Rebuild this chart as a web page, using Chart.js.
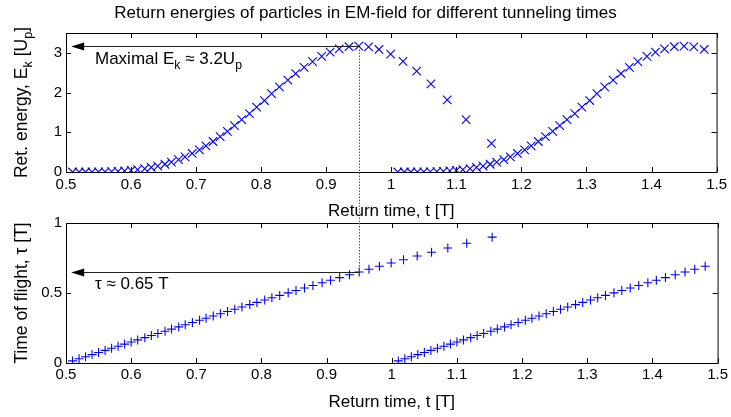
<!DOCTYPE html>
<html>
<head>
<meta charset="utf-8">
<script src="https://cdn.jsdelivr.net/npm/chart.js@4.4.0/dist/chart.umd.min.js"></script>
<style>
  body { margin: 0; background: #fff; }
  #wrap { position: relative; width: 731px; height: 417px; background: #fff; }
  canvas { position: absolute; left: 0; }
  #top { top: 0; }
  #bottom { top: 210px; }
</style>
</head>
<body>
<div id="wrap">
  <canvas id="bottom" width="731" height="207"></canvas>
  <canvas id="top" width="731" height="223"></canvas>
</div>
<script>
// first half cycle: return time [T], return energy [Up], time of flight [T]
const returnTimeA = [0.510, 0.520, 0.530, 0.540, 0.550, 0.560, 0.570, 0.580, 0.590, 0.600,
  0.610, 0.621, 0.631, 0.641, 0.652, 0.662, 0.673, 0.683, 0.694, 0.705,
  0.715, 0.726, 0.737, 0.748, 0.759, 0.770, 0.782, 0.793, 0.805, 0.816,
  0.828, 0.841, 0.853, 0.866, 0.879, 0.893, 0.906, 0.920, 0.935, 0.950,
  0.965, 0.981, 0.999, 1.018, 1.039, 1.061, 1.086, 1.115, 1.154];
const energyA = [0.000, 0.000, 0.000, 0.001, 0.003, 0.006, 0.010, 0.018, 0.029, 0.043,
  0.058, 0.083, 0.114, 0.150, 0.195, 0.248, 0.310, 0.383, 0.466, 0.557,
  0.659, 0.768, 0.891, 1.024, 1.168, 1.320, 1.472, 1.636, 1.800, 1.972,
  2.142, 2.313, 2.480, 2.637, 2.781, 2.910, 3.018, 3.102, 3.154, 3.171,
  3.150, 3.085, 2.968, 2.788, 2.542, 2.221, 1.815, 1.320, 0.722];
const flightA = [0.015, 0.030, 0.045, 0.060, 0.075, 0.090, 0.105, 0.120, 0.135, 0.150,
  0.165, 0.181, 0.196, 0.211, 0.227, 0.242, 0.258, 0.273, 0.289, 0.305,
  0.320, 0.336, 0.352, 0.368, 0.384, 0.400, 0.417, 0.433, 0.450, 0.466,
  0.483, 0.501, 0.518, 0.536, 0.554, 0.573, 0.591, 0.610, 0.630, 0.650,
  0.670, 0.691, 0.714, 0.738, 0.764, 0.791, 0.821, 0.855, 0.899];

// second half cycle (cut at the end of the window)
const returnTimeB = [1.010, 1.020, 1.030, 1.040, 1.050, 1.060, 1.070, 1.080, 1.090, 1.100,
  1.110, 1.121, 1.131, 1.141, 1.152, 1.162, 1.173, 1.183, 1.194, 1.205,
  1.215, 1.226, 1.237, 1.248, 1.259, 1.270, 1.282, 1.293, 1.305, 1.316,
  1.328, 1.341, 1.353, 1.366, 1.379, 1.393, 1.406, 1.420, 1.435, 1.450,
  1.465, 1.481];
const energyB = [0.000, 0.000, 0.000, 0.001, 0.003, 0.006, 0.010, 0.018, 0.029, 0.043,
  0.058, 0.083, 0.114, 0.150, 0.195, 0.248, 0.310, 0.383, 0.466, 0.557,
  0.659, 0.768, 0.891, 1.024, 1.168, 1.320, 1.472, 1.636, 1.800, 1.972,
  2.142, 2.313, 2.480, 2.637, 2.781, 2.910, 3.018, 3.102, 3.154, 3.171,
  3.150, 3.085];
const flightB = [0.015, 0.030, 0.045, 0.060, 0.075, 0.090, 0.105, 0.120, 0.135, 0.150,
  0.165, 0.181, 0.196, 0.211, 0.227, 0.242, 0.258, 0.273, 0.289, 0.305,
  0.320, 0.336, 0.352, 0.368, 0.384, 0.400, 0.417, 0.433, 0.450, 0.466,
  0.483, 0.501, 0.518, 0.536, 0.554, 0.573, 0.591, 0.610, 0.630, 0.650,
  0.670, 0.691];

// ticks
const xTickValues = [0.5, 0.6, 0.7, 0.8, 0.9, 1.0, 1.1, 1.2, 1.3, 1.4, 1.5];
const xTickLabels = ['0.5', '0.6', '0.7', '0.8', '0.9', '1', '1.1', '1.2', '1.3', '1.4', '1.5'];
const energyTickValues = [0, 1, 2, 3];
const energyTickLabels = ['0', '1', '2', '3'];
const flightTickValues = [0, 0.5, 1];
const flightTickLabels = ['0', '0.5', '1'];

// marked point
const peakTime = 0.95;
const peakEnergy = 3.17;
const peakFlight = 0.65;
const arrowTipTime = 0.508;

const FONT = '"Liberation Sans", Arial, Helvetica, sans-serif';
const BLUE = '#0000ff';

function pts(xs, ys) {
    let out = [];
    for (let i = 0; i < xs.length; i++) {
        out.push({x: xs[i], y: ys[i]});
    }
    return out;
}

//text with subscripts
function richWidth(ctx, parts, size) {
    let w = 0;
    parts.forEach(function (p) {
        ctx.font = (p.sub ? size * 0.72 : size) + 'px ' + FONT;
        w += ctx.measureText(p.t).width;
    });
    return w;
}

function drawRich(ctx, parts, x, y, size, align, angle) {
    ctx.save();
    ctx.translate(x, y);
    if (angle) ctx.rotate(angle);
    let cx = align === 'center' ? -richWidth(ctx, parts, size) / 2 : 0;
    ctx.fillStyle = '#000';
    ctx.textBaseline = 'alphabetic';
    ctx.textAlign = 'left';
    parts.forEach(function (p) {
        ctx.font = (p.sub ? size * 0.72 : size) + 'px ' + FONT;
        ctx.fillText(p.t, cx, p.sub ? size * 0.3 : 0);
        cx += ctx.measureText(p.t).width;
    });
    ctx.restore();
}

function arrowLeft(ctx, xFrom, xTip, y) {
    ctx.save();
    ctx.strokeStyle = '#222';
    ctx.lineWidth = 1;
    ctx.beginPath();
    ctx.moveTo(xFrom, y);
    ctx.lineTo(xTip + 8, y);
    ctx.stroke();
    ctx.fillStyle = '#000';
    ctx.beginPath();
    ctx.moveTo(xTip, y);
    ctx.lineTo(xTip + 13, y - 4);
    ctx.lineTo(xTip + 13, y + 4);
    ctx.closePath();
    ctx.fill();
    ctx.restore();
}

function dotted(ctx, x, y1, y2) {
    ctx.save();
    ctx.strokeStyle = '#555';
    ctx.lineWidth = 1;
    ctx.setLineDash([1.5, 1.5]);
    ctx.beginPath();
    ctx.moveTo(x, y1);
    ctx.lineTo(x, y2);
    ctx.stroke();
    ctx.restore();
}

//matlab style box with ticks pointing inwards
function drawBox(chart) {
    const ctx = chart.ctx, a = chart.chartArea;
    const xs = chart.scales.x, ys = chart.scales.y;
    ctx.save();
    ctx.strokeStyle = '#000';
    ctx.lineWidth = 1;
    ctx.strokeRect(a.left + 0.5, a.top + 0.5, a.right - a.left, a.bottom - a.top);
    ctx.beginPath();
    xs.ticks.forEach(function (t) {
        const px = Math.round(xs.getPixelForValue(t.value)) + 0.5;
        ctx.moveTo(px, a.bottom); ctx.lineTo(px, a.bottom - 5);
        ctx.moveTo(px, a.top); ctx.lineTo(px, a.top + 5);
    });
    ys.ticks.forEach(function (t) {
        const py = Math.round(ys.getPixelForValue(t.value)) + 0.5;
        ctx.moveTo(a.left, py); ctx.lineTo(a.left + 5, py);
        ctx.moveTo(a.right, py); ctx.lineTo(a.right - 5, py);
    });
    ctx.stroke();
    ctx.restore();
}

const topDecor = {
    id: 'topDecor',
    afterDraw(chart) {
        const ctx = chart.ctx, a = chart.chartArea;
        const xs = chart.scales.x, ys = chart.scales.y;
        drawBox(chart);
        const px = Math.round(xs.getPixelForValue(peakTime)) + 0.5;
        const py = Math.round(ys.getPixelForValue(peakEnergy)) + 0.5;
        dotted(ctx, px, py, chart.height);
        arrowLeft(ctx, px, xs.getPixelForValue(arrowTipTime), py);
        drawRich(ctx, [{t: 'Maximal E'}, {t: 'k', sub: true}, {t: ' \u2248 3.2U'}, {t: 'p', sub: true}],
            95, py + 17, 17, 'left');
        drawRich(ctx, [{t: 'Return energies of particles in EM-field for different tunneling times'}],
            chart.width / 2, 18, 17, 'center');
        drawRich(ctx, [{t: 'Return time, t [T]'}], (a.left + a.right) / 2, 216, 17, 'center');
        drawRich(ctx, [{t: 'Ret. energy, E'}, {t: 'k', sub: true}, {t: ' [U'}, {t: 'p', sub: true}, {t: ']'}],
            27, (a.top + a.bottom) / 2, 17.5, 'center', -Math.PI / 2);
    }
};

const bottomDecor = {
    id: 'bottomDecor',
    afterDraw(chart) {
        const ctx = chart.ctx, a = chart.chartArea;
        const xs = chart.scales.x, ys = chart.scales.y;
        drawBox(chart);
        const px = Math.round(xs.getPixelForValue(peakTime)) + 0.5;
        const py = Math.round(ys.getPixelForValue(peakFlight)) + 0.5;
        dotted(ctx, px, a.top, py);
        arrowLeft(ctx, px, xs.getPixelForValue(arrowTipTime), py);
        drawRich(ctx, [{t: '\u03c4 \u2248 0.65 T'}], 95, py + 16, 17, 'left');
        drawRich(ctx, [{t: 'Return time, t [T]'}], (a.left + a.right) / 2, 197, 17, 'center');
        drawRich(ctx, [{t: 'Time of flight, \u03c4 [T]'}],
            27, (a.top + a.bottom) / 2, 17.5, 'center', -Math.PI / 2);
    }
};

function scaleX(height, pad) {
    return {
        type: 'linear',
        min: 0.5,
        max: 1.5,
        afterBuildTicks: function (s) { s.ticks = xTickValues.map(v => ({value: v})); },
        afterFit: function (s) { s.height = height; },
        grid: {display: false, drawTicks: false},
        border: {display: false},
        ticks: {
            color: '#000',
            padding: pad,
            maxRotation: 0,
            autoSkip: false,
            font: {family: FONT, size: 15},
            callback: (v, i) => xTickLabels[i]
        }
    };
}

function scaleY(max, values, labels) {
    return {
        type: 'linear',
        min: 0,
        max: max,
        afterBuildTicks: function (s) { s.ticks = values.map(v => ({value: v})); },
        afterFit: function (s) { s.width = 66; },
        grid: {display: false, drawTicks: false},
        border: {display: false},
        ticks: {
            color: '#000',
            padding: 4,
            font: {family: FONT, size: 15},
            callback: (v, i) => labels[i]
        }
    };
}

function markerSet(data, style, radius) {
    return {
        data: data,
        pointStyle: style,
        pointRadius: radius,
        pointBorderWidth: 1.1,
        borderColor: BLUE,
        backgroundColor: BLUE,
        showLine: false
    };
}

new Chart(document.getElementById('top'), {
    type: 'scatter',
    data: {
        datasets: [
            markerSet(pts(returnTimeA, energyA), 'crossRot', 6),
            markerSet(pts(returnTimeB, energyB), 'crossRot', 6)
        ]
    },
    options: {
        responsive: false,
        animation: false,
        layout: {padding: {top: 33, right: 13, bottom: 0, left: 0}},
        plugins: {legend: {display: false}, tooltip: {enabled: false}},
        scales: {x: scaleX(51, 4), y: scaleY(3.5, energyTickValues, energyTickLabels)}
    },
    plugins: [topDecor]
});

new Chart(document.getElementById('bottom'), {
    type: 'scatter',
    data: {
        datasets: [
            markerSet(pts(returnTimeA, flightA), 'cross', 4.5),
            markerSet(pts(returnTimeB, flightB), 'cross', 4.5)
        ]
    },
    options: {
        responsive: false,
        animation: false,
        layout: {padding: {top: 13, right: 13, bottom: 0, left: 0}},
        plugins: {legend: {display: false}, tooltip: {enabled: false}},
        scales: {x: scaleX(54, 3), y: scaleY(1, flightTickValues, flightTickLabels)}
    },
    plugins: [bottomDecor]
});
</script>
</body>
</html>
